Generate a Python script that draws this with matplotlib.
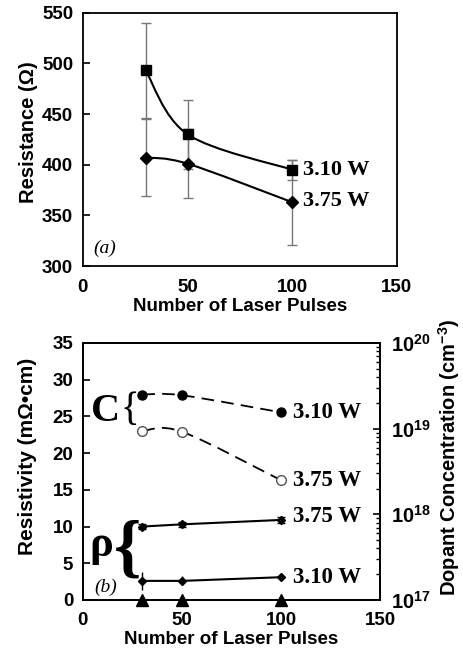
import numpy as np
import matplotlib
matplotlib.use("Agg")
import matplotlib.pyplot as plt
from matplotlib.path import Path
from matplotlib.patches import PathPatch

pulses = [30, 50, 100]

# (a) resistance, ohm
res_310 = [493, 430, 395]
res_310_err = [47, 34, 10]
res_375 = [407, 401, 363]
res_375_err = [38, 34, 42]

# (b) dopant concentration, cm^-3 (right axis)
conc_310 = [2.5e19, 2.45e19, 1.55e19]
conc_375 = [9.4e18, 9.2e18, 2.5e18]

# (b) resistivity, mOhm cm (left axis)
rho_375 = [10.0, 10.3, 10.9]
rho_375_err = [0.4, 0.3, 0.4]
rho_310 = [2.6, 2.6, 3.1]
rho_310_err = [1.2, 0.6, 0.15]
base = [0, 0, 0]

plt.rcParams['font.family'] = 'Liberation Sans'
plt.rcParams['font.weight'] = 'bold'
plt.rcParams['axes.labelweight'] = 'bold'
plt.rcParams['axes.linewidth'] = 1.3

SERIF = 'Liberation Serif'
ECOL = '#777777'


def smooth_line(ax, x, y, logy=False, **kw):
    # excel style smoothed line through the points
    x = np.asarray(x, float)
    y = np.log10(y) if logy else np.asarray(y, float)
    pts = np.column_stack([x, y])
    n = len(pts)
    verts = [pts[0]]
    codes = [Path.MOVETO]
    for i in range(n - 1):
        p0 = pts[max(i - 1, 0)]
        p1, p2 = pts[i], pts[i + 1]
        p3 = pts[min(i + 2, n - 1)]
        verts += [p1 + (p2 - p0) / 6, p2 - (p3 - p1) / 6, p2]
        codes += [Path.CURVE4] * 3
    verts = np.array(verts)
    if logy:
        verts[:, 1] = 10 ** verts[:, 1]
    ax.add_patch(PathPatch(Path(verts, codes), fill=False, **kw))


def style(ax):
    ax.tick_params(axis='y', direction='in', length=5, width=1.2, labelsize=13.5, pad=7)
    ax.tick_params(axis='x', length=0, labelsize=13.5, pad=9)
    ax.set_xlim(0, 150)
    ax.set_xticks([0, 50, 100, 150])


fig = plt.figure(figsize=(4.63, 6.53), dpi=100)

# ---- (a)
ax = fig.add_axes([0.179, 0.5926, 0.678, 0.388])
style(ax)
ax.set_ylim(300, 550)
ax.set_yticks(range(300, 551, 50))
ax.errorbar(pulses, res_310, yerr=res_310_err, fmt='none', ecolor=ECOL, elinewidth=1, capsize=3.5)
ax.errorbar(pulses, res_375, yerr=res_375_err, fmt='none', ecolor=ECOL, elinewidth=1, capsize=3.5)
smooth_line(ax, pulses, res_310, color='k', lw=1.5)
smooth_line(ax, pulses, res_375, color='k', lw=1.5)
ax.plot(pulses, res_310, 's', color='k', ms=7)
ax.plot(pulses, res_375, 'D', color='k', ms=6)
ax.text(105, 395, '3.10 W', family=SERIF, fontsize=16, weight='bold', va='center')
ax.text(105, 364, '3.75 W', family=SERIF, fontsize=16, weight='bold', va='center')
ax.text(0.032, 0.071, '(a)', transform=ax.transAxes, family=SERIF, style='italic',
        weight='normal', fontsize=14, va='center')
ax.set_xlabel('Number of Laser Pulses', fontsize=13.5, labelpad=2)
ax.set_ylabel('Resistance (Ω)', fontsize=14.5)
ax.yaxis.set_label_coords(-0.142, 0.53)

# ---- (b)
bx = fig.add_axes([0.179, 0.0812, 0.642, 0.3936])
style(bx)
bx.set_ylim(0, 35)
bx.set_yticks(range(0, 36, 5))
bx2 = bx.twinx()
bx2.set_yscale('log')
bx2.set_ylim(1e17, 1e20)
bx2.tick_params(axis='y', which='major', direction='in', length=5, width=1.2, labelsize=14.5, pad=8)
bx2.tick_params(axis='y', which='minor', direction='in', length=3, width=1)

smooth_line(bx2, pulses, conc_310, logy=True, color='k', lw=1.3, ls=(0, (7, 4)))
smooth_line(bx2, pulses, conc_375, logy=True, color='k', lw=1.3, ls=(0, (7, 4)))
bx2.plot(pulses, conc_310, 'o', color='k', ms=6.5)
bx2.plot(pulses, conc_375, 'o', mfc='white', mec='#555555', mew=1, ms=7)

bx.errorbar(pulses, rho_375, yerr=rho_375_err, fmt='none', ecolor='k', elinewidth=1, capsize=3)
bx.errorbar(pulses, rho_310, yerr=rho_310_err, fmt='none', ecolor='k', elinewidth=1, capsize=0)
bx.plot(pulses, rho_375, 'D-', color='k', lw=1.5, ms=4)
bx.plot(pulses, rho_310, 'D-', color='k', lw=1.5, ms=4)
bx.plot(pulses, base, '^', color='k', ms=8, clip_on=False, zorder=5)

for y, lab in [(25.5, '3.10 W'), (16.3, '3.75 W'), (11.3, '3.75 W'), (3.0, '3.10 W')]:
    bx.text(106, y, lab, family=SERIF, fontsize=16.5, weight='bold', va='center')

bx.text(0.078, 0.732, 'C', transform=bx.transAxes, family=SERIF, weight='bold',
        fontsize=29, ha='center', va='center')
bx.text(0.158, 0.738, '{', transform=bx.transAxes, family=SERIF, weight='normal',
        fontsize=28, ha='center', va='center')
bx.text(0.062, 0.215, 'ρ', transform=bx.transAxes, family=SERIF, weight='bold',
        fontsize=32, ha='center', va='center')
bx.text(0.15, 0.19, '{', transform=bx.transAxes, family=SERIF, weight='bold',
        fontsize=50, ha='center', va='center')
bx.text(0.04, 0.05, '(b)', transform=bx.transAxes, family=SERIF, style='italic',
        weight='normal', fontsize=14, va='center', zorder=6)

bx.set_xlabel('Number of Laser Pulses', fontsize=13.5, labelpad=1)
bx.set_ylabel('Resistivity (mΩ•cm)', fontsize=15)
bx.yaxis.set_label_coords(-0.155, 0.56)
bx2.set_ylabel(r'Dopant Concentration (cm$^{\mathdefault{-3}}$)', fontsize=14.5)
bx2.yaxis.set_label_coords(1.19, 0.556)

fig.savefig('out.png', dpi=100)
